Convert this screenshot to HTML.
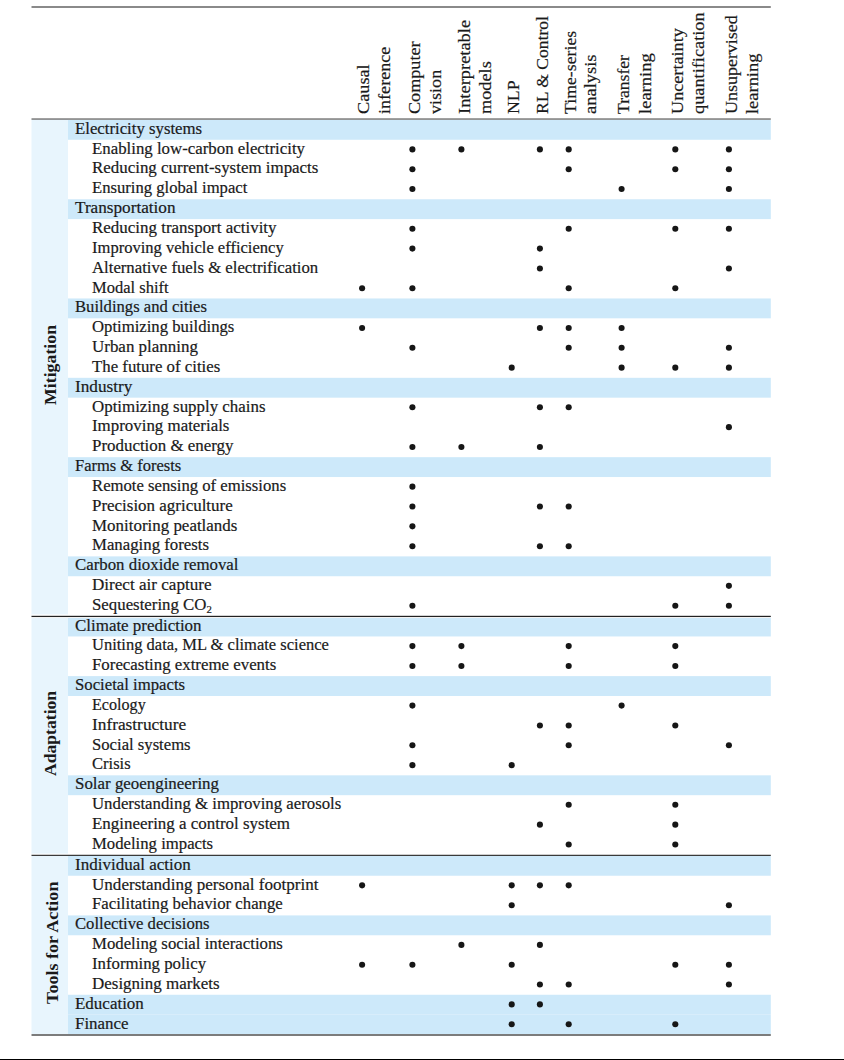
<!DOCTYPE html>
<html><head><meta charset="utf-8"><style>
html,body{margin:0;padding:0;background:#fff;}
body{width:844px;height:1060px;position:relative;overflow:hidden;font-family:"Liberation Serif",serif;color:#1a1a1a;}
.a{position:absolute;}
.t{position:absolute;white-space:nowrap;-webkit-text-stroke:0.2px #1a1a1a;font-size:16.75px;line-height:20px;transform-origin:0 0;}
.d{position:absolute;width:6px;height:6px;border-radius:50%;background:#161616;}
.h{position:absolute;white-space:nowrap;-webkit-text-stroke:0.2px #1a1a1a;font-size:17.7px;line-height:20px;transform-origin:0 0;}
.b{position:absolute;white-space:nowrap;font-size:17.5px;font-weight:bold;line-height:20px;transform-origin:0 0;}
sub{font-size:64%;vertical-align:-2.5px;line-height:0;}
</style></head><body>

<svg class="a" style="left:0;top:0" width="844" height="1060" viewBox="0 0 844 1060"><rect x="31.5" y="119.0" width="36.5" height="915.04" fill="#e8f5fd"/><rect x="68.0" y="119.90" width="702.80" height="19.86" fill="#cde9fa"/><rect x="68.0" y="199.26" width="702.80" height="19.86" fill="#cde9fa"/><rect x="68.0" y="298.46" width="702.80" height="19.86" fill="#cde9fa"/><rect x="68.0" y="377.82" width="702.80" height="19.86" fill="#cde9fa"/><rect x="68.0" y="457.18" width="702.80" height="19.86" fill="#cde9fa"/><rect x="68.0" y="556.38" width="702.80" height="19.86" fill="#cde9fa"/><rect x="68.0" y="616.60" width="702.80" height="19.86" fill="#cde9fa"/><rect x="68.0" y="676.12" width="702.80" height="19.86" fill="#cde9fa"/><rect x="68.0" y="775.32" width="702.80" height="19.86" fill="#cde9fa"/><rect x="68.0" y="855.88" width="702.80" height="19.86" fill="#cde9fa"/><rect x="68.0" y="915.40" width="702.80" height="19.86" fill="#cde9fa"/><rect x="68.0" y="994.76" width="702.80" height="19.86" fill="#cde9fa"/><rect x="68.0" y="1014.60" width="702.80" height="19.40" fill="#cde9fa"/><circle cx="412.40" cy="149.39" r="3.05" fill="#161616"/><circle cx="461.40" cy="149.39" r="3.05" fill="#161616"/><circle cx="539.90" cy="149.39" r="3.05" fill="#161616"/><circle cx="568.70" cy="149.39" r="3.05" fill="#161616"/><circle cx="675.30" cy="149.39" r="3.05" fill="#161616"/><circle cx="728.90" cy="149.39" r="3.05" fill="#161616"/><circle cx="412.40" cy="169.23" r="3.05" fill="#161616"/><circle cx="568.70" cy="169.23" r="3.05" fill="#161616"/><circle cx="675.30" cy="169.23" r="3.05" fill="#161616"/><circle cx="728.90" cy="169.23" r="3.05" fill="#161616"/><circle cx="412.40" cy="189.07" r="3.05" fill="#161616"/><circle cx="621.60" cy="189.07" r="3.05" fill="#161616"/><circle cx="728.90" cy="189.07" r="3.05" fill="#161616"/><circle cx="412.40" cy="228.75" r="3.05" fill="#161616"/><circle cx="568.70" cy="228.75" r="3.05" fill="#161616"/><circle cx="675.30" cy="228.75" r="3.05" fill="#161616"/><circle cx="728.90" cy="228.75" r="3.05" fill="#161616"/><circle cx="412.40" cy="248.59" r="3.05" fill="#161616"/><circle cx="539.90" cy="248.59" r="3.05" fill="#161616"/><circle cx="539.90" cy="268.43" r="3.05" fill="#161616"/><circle cx="728.90" cy="268.43" r="3.05" fill="#161616"/><circle cx="362.10" cy="288.27" r="3.05" fill="#161616"/><circle cx="412.40" cy="288.27" r="3.05" fill="#161616"/><circle cx="568.70" cy="288.27" r="3.05" fill="#161616"/><circle cx="675.30" cy="288.27" r="3.05" fill="#161616"/><circle cx="362.10" cy="327.95" r="3.05" fill="#161616"/><circle cx="539.90" cy="327.95" r="3.05" fill="#161616"/><circle cx="568.70" cy="327.95" r="3.05" fill="#161616"/><circle cx="621.60" cy="327.95" r="3.05" fill="#161616"/><circle cx="412.40" cy="347.79" r="3.05" fill="#161616"/><circle cx="568.70" cy="347.79" r="3.05" fill="#161616"/><circle cx="621.60" cy="347.79" r="3.05" fill="#161616"/><circle cx="728.90" cy="347.79" r="3.05" fill="#161616"/><circle cx="511.70" cy="367.63" r="3.05" fill="#161616"/><circle cx="621.60" cy="367.63" r="3.05" fill="#161616"/><circle cx="675.30" cy="367.63" r="3.05" fill="#161616"/><circle cx="728.90" cy="367.63" r="3.05" fill="#161616"/><circle cx="412.40" cy="407.31" r="3.05" fill="#161616"/><circle cx="539.90" cy="407.31" r="3.05" fill="#161616"/><circle cx="568.70" cy="407.31" r="3.05" fill="#161616"/><circle cx="728.90" cy="427.15" r="3.05" fill="#161616"/><circle cx="412.40" cy="446.99" r="3.05" fill="#161616"/><circle cx="461.40" cy="446.99" r="3.05" fill="#161616"/><circle cx="539.90" cy="446.99" r="3.05" fill="#161616"/><circle cx="412.40" cy="486.67" r="3.05" fill="#161616"/><circle cx="412.40" cy="506.51" r="3.05" fill="#161616"/><circle cx="539.90" cy="506.51" r="3.05" fill="#161616"/><circle cx="568.70" cy="506.51" r="3.05" fill="#161616"/><circle cx="412.40" cy="526.35" r="3.05" fill="#161616"/><circle cx="412.40" cy="546.19" r="3.05" fill="#161616"/><circle cx="539.90" cy="546.19" r="3.05" fill="#161616"/><circle cx="568.70" cy="546.19" r="3.05" fill="#161616"/><circle cx="728.90" cy="585.87" r="3.05" fill="#161616"/><circle cx="412.40" cy="605.71" r="3.05" fill="#161616"/><circle cx="675.30" cy="605.71" r="3.05" fill="#161616"/><circle cx="728.90" cy="605.71" r="3.05" fill="#161616"/><circle cx="412.40" cy="646.09" r="3.05" fill="#161616"/><circle cx="461.40" cy="646.09" r="3.05" fill="#161616"/><circle cx="568.70" cy="646.09" r="3.05" fill="#161616"/><circle cx="675.30" cy="646.09" r="3.05" fill="#161616"/><circle cx="412.40" cy="665.93" r="3.05" fill="#161616"/><circle cx="461.40" cy="665.93" r="3.05" fill="#161616"/><circle cx="568.70" cy="665.93" r="3.05" fill="#161616"/><circle cx="675.30" cy="665.93" r="3.05" fill="#161616"/><circle cx="412.40" cy="705.61" r="3.05" fill="#161616"/><circle cx="621.60" cy="705.61" r="3.05" fill="#161616"/><circle cx="539.90" cy="725.45" r="3.05" fill="#161616"/><circle cx="568.70" cy="725.45" r="3.05" fill="#161616"/><circle cx="675.30" cy="725.45" r="3.05" fill="#161616"/><circle cx="412.40" cy="745.29" r="3.05" fill="#161616"/><circle cx="568.70" cy="745.29" r="3.05" fill="#161616"/><circle cx="728.90" cy="745.29" r="3.05" fill="#161616"/><circle cx="412.40" cy="765.13" r="3.05" fill="#161616"/><circle cx="511.70" cy="765.13" r="3.05" fill="#161616"/><circle cx="568.70" cy="804.81" r="3.05" fill="#161616"/><circle cx="675.30" cy="804.81" r="3.05" fill="#161616"/><circle cx="539.90" cy="824.65" r="3.05" fill="#161616"/><circle cx="675.30" cy="824.65" r="3.05" fill="#161616"/><circle cx="568.70" cy="844.49" r="3.05" fill="#161616"/><circle cx="675.30" cy="844.49" r="3.05" fill="#161616"/><circle cx="362.10" cy="885.37" r="3.05" fill="#161616"/><circle cx="511.70" cy="885.37" r="3.05" fill="#161616"/><circle cx="539.90" cy="885.37" r="3.05" fill="#161616"/><circle cx="568.70" cy="885.37" r="3.05" fill="#161616"/><circle cx="511.70" cy="905.21" r="3.05" fill="#161616"/><circle cx="728.90" cy="905.21" r="3.05" fill="#161616"/><circle cx="461.40" cy="944.89" r="3.05" fill="#161616"/><circle cx="539.90" cy="944.89" r="3.05" fill="#161616"/><circle cx="362.10" cy="964.73" r="3.05" fill="#161616"/><circle cx="412.40" cy="964.73" r="3.05" fill="#161616"/><circle cx="511.70" cy="964.73" r="3.05" fill="#161616"/><circle cx="675.30" cy="964.73" r="3.05" fill="#161616"/><circle cx="728.90" cy="964.73" r="3.05" fill="#161616"/><circle cx="539.90" cy="984.57" r="3.05" fill="#161616"/><circle cx="568.70" cy="984.57" r="3.05" fill="#161616"/><circle cx="728.90" cy="984.57" r="3.05" fill="#161616"/><circle cx="511.70" cy="1004.41" r="3.05" fill="#161616"/><circle cx="539.90" cy="1004.41" r="3.05" fill="#161616"/><circle cx="511.70" cy="1024.25" r="3.05" fill="#161616"/><circle cx="568.70" cy="1024.25" r="3.05" fill="#161616"/><circle cx="675.30" cy="1024.25" r="3.05" fill="#161616"/><rect x="31.5" y="6.2" width="739.30" height="1.6" fill="#6e6e6e"/><rect x="31.5" y="118.3" width="739.30" height="1.5" fill="#7a7a7a"/><rect x="31.5" y="614.4" width="739.30" height="3.6" fill="#ffffff"/><rect x="31.5" y="615.8" width="739.30" height="1.25" fill="#222222"/><rect x="31.5" y="853.6" width="739.30" height="2.4" fill="#ffffff"/><rect x="31.5" y="854.75" width="739.30" height="1.25" fill="#3a3a3a"/><rect x="31.5" y="1034.2" width="739.30" height="1.6" fill="#5c5c5c"/><rect x="0" y="1059" width="844" height="1" fill="#000"/></svg>
<div class="t" style="left:75.0px;top:118.80px;transform:scaleX(1.0008)">Electricity systems</div>
<div class="t" style="left:91.5px;top:138.64px;transform:scaleX(1.0043)">Enabling low-carbon electricity</div>
<div class="t" style="left:91.5px;top:158.48px;transform:scaleX(1.0098)">Reducing current-system impacts</div>
<div class="t" style="left:91.5px;top:178.32px;transform:scaleX(0.9936)">Ensuring global impact</div>
<div class="t" style="left:75.0px;top:198.16px;transform:scaleX(1.0254)">Transportation</div>
<div class="t" style="left:91.5px;top:218.00px;transform:scaleX(1.0121)">Reducing transport activity</div>
<div class="t" style="left:91.5px;top:237.84px;transform:scaleX(0.9876)">Improving vehicle efficiency</div>
<div class="t" style="left:91.5px;top:257.68px;transform:scaleX(0.9987)">Alternative fuels &amp; electrification</div>
<div class="t" style="left:91.5px;top:277.52px;transform:scaleX(0.9858)">Modal shift</div>
<div class="t" style="left:75.0px;top:297.36px;transform:scaleX(0.9917)">Buildings and cities</div>
<div class="t" style="left:91.5px;top:317.20px;transform:scaleX(0.9965)">Optimizing buildings</div>
<div class="t" style="left:91.5px;top:337.04px;transform:scaleX(1.0125)">Urban planning</div>
<div class="t" style="left:91.5px;top:356.88px;transform:scaleX(1.0024)">The future of cities</div>
<div class="t" style="left:75.0px;top:376.72px;transform:scaleX(1.0271)">Industry</div>
<div class="t" style="left:91.5px;top:396.56px;transform:scaleX(1.0076)">Optimizing supply chains</div>
<div class="t" style="left:91.5px;top:416.40px;transform:scaleX(1.0081)">Improving materials</div>
<div class="t" style="left:91.5px;top:436.24px;transform:scaleX(1.0093)">Production &amp; energy</div>
<div class="t" style="left:75.0px;top:456.08px;transform:scaleX(0.9842)">Farms &amp; forests</div>
<div class="t" style="left:91.5px;top:475.92px;transform:scaleX(0.9959)">Remote sensing of emissions</div>
<div class="t" style="left:91.5px;top:495.76px;transform:scaleX(1.0116)">Precision agriculture</div>
<div class="t" style="left:91.5px;top:515.60px;transform:scaleX(1.0112)">Monitoring peatlands</div>
<div class="t" style="left:91.5px;top:535.44px;transform:scaleX(1.0017)">Managing forests</div>
<div class="t" style="left:75.0px;top:555.28px;transform:scaleX(1.0043)">Carbon dioxide removal</div>
<div class="t" style="left:91.5px;top:575.12px;transform:scaleX(1.0198)">Direct air capture</div>
<div class="t" style="left:91.5px;top:594.96px;transform:scaleX(1.0042)">Sequestering CO<sub>2</sub></div>
<div class="t" style="left:75.0px;top:615.50px;transform:scaleX(1.0113)">Climate prediction</div>
<div class="t" style="left:91.5px;top:635.34px;transform:scaleX(0.9858)">Uniting data, ML &amp; climate science</div>
<div class="t" style="left:91.5px;top:655.18px;transform:scaleX(1.0055)">Forecasting extreme events</div>
<div class="t" style="left:75.0px;top:675.02px;transform:scaleX(0.9982)">Societal impacts</div>
<div class="t" style="left:91.5px;top:694.86px;transform:scaleX(0.9621)">Ecology</div>
<div class="t" style="left:91.5px;top:714.70px;transform:scaleX(1.0321)">Infrastructure</div>
<div class="t" style="left:91.5px;top:734.54px;transform:scaleX(0.9949)">Social systems</div>
<div class="t" style="left:91.5px;top:754.38px;transform:scaleX(0.9870)">Crisis</div>
<div class="t" style="left:75.0px;top:774.22px;transform:scaleX(1.0084)">Solar geoengineering</div>
<div class="t" style="left:91.5px;top:794.06px;transform:scaleX(1.0016)">Understanding &amp; improving aerosols</div>
<div class="t" style="left:91.5px;top:813.90px;transform:scaleX(1.0113)">Engineering a control system</div>
<div class="t" style="left:91.5px;top:833.74px;transform:scaleX(0.9975)">Modeling impacts</div>
<div class="t" style="left:75.0px;top:854.78px;transform:scaleX(1.0160)">Individual action</div>
<div class="t" style="left:91.5px;top:874.62px;transform:scaleX(1.0184)">Understanding personal footprint</div>
<div class="t" style="left:91.5px;top:894.46px;transform:scaleX(1.0005)">Facilitating behavior change</div>
<div class="t" style="left:75.0px;top:914.30px;transform:scaleX(0.9940)">Collective decisions</div>
<div class="t" style="left:91.5px;top:934.14px;transform:scaleX(1.0005)">Modeling social interactions</div>
<div class="t" style="left:91.5px;top:953.98px;transform:scaleX(1.0009)">Informing policy</div>
<div class="t" style="left:91.5px;top:973.82px;transform:scaleX(1.0128)">Designing markets</div>
<div class="t" style="left:75.0px;top:993.66px;transform:scaleX(1.0136)">Education</div>
<div class="t" style="left:75.0px;top:1013.50px;transform:scaleX(1.0097)">Finance</div>
<div class="h" style="left:369.10px;top:113.6px;transform:rotate(-90deg) scaleX(1.0323) translateY(-16px)">Causal</div>
<div class="h" style="left:390.20px;top:113.6px;transform:rotate(-90deg) scaleX(1.0233) translateY(-16px)">inference</div>
<div class="h" style="left:419.90px;top:113.6px;transform:rotate(-90deg) scaleX(1.0256) translateY(-16px)">Computer</div>
<div class="h" style="left:441.15px;top:113.6px;transform:rotate(-90deg) scaleX(1.0217) translateY(-16px)">vision</div>
<div class="h" style="left:469.90px;top:113.6px;transform:rotate(-90deg) scaleX(1.0419) translateY(-16px)">Interpretable</div>
<div class="h" style="left:490.50px;top:113.6px;transform:rotate(-90deg) scaleX(1.0324) translateY(-16px)">models</div>
<div class="h" style="left:518.60px;top:113.6px;transform:rotate(-90deg) scaleX(1.0033) translateY(-16px)">NLP</div>
<div class="h" style="left:547.80px;top:113.6px;transform:rotate(-90deg) scaleX(0.9938) translateY(-16px)">RL &amp; Control</div>
<div class="h" style="left:575.70px;top:113.6px;transform:rotate(-90deg) scaleX(1.0036) translateY(-16px)">Time-series</div>
<div class="h" style="left:596.40px;top:113.6px;transform:rotate(-90deg) scaleX(1.0451) translateY(-16px)">analysis</div>
<div class="h" style="left:629.10px;top:113.6px;transform:rotate(-90deg) scaleX(0.9949) translateY(-16px)">Transfer</div>
<div class="h" style="left:650.50px;top:113.6px;transform:rotate(-90deg) scaleX(1.0479) translateY(-16px)">learning</div>
<div class="h" style="left:683.20px;top:113.6px;transform:rotate(-90deg) scaleX(1.0279) translateY(-16px)">Uncertainty</div>
<div class="h" style="left:703.60px;top:113.6px;transform:rotate(-90deg) scaleX(1.0342) translateY(-16px)">quantification</div>
<div class="h" style="left:737.00px;top:113.6px;transform:rotate(-90deg) scaleX(1.0157) translateY(-16px)">Unsupervised</div>
<div class="h" style="left:758.10px;top:113.6px;transform:rotate(-90deg) scaleX(1.0426) translateY(-16px)">learning</div>
<div class="b" style="left:55.60px;top:404.8px;transform:rotate(-90deg) scaleX(1.0168) translateY(-16px)">Mitigation</div>
<div class="b" style="left:56.10px;top:775.7px;transform:rotate(-90deg) scaleX(1.0060) translateY(-16px)">Adaptation</div>
<div class="b" style="left:57.50px;top:1003.7px;transform:rotate(-90deg) scaleX(1.0321) translateY(-16px)">Tools for Action</div>
</body></html>
